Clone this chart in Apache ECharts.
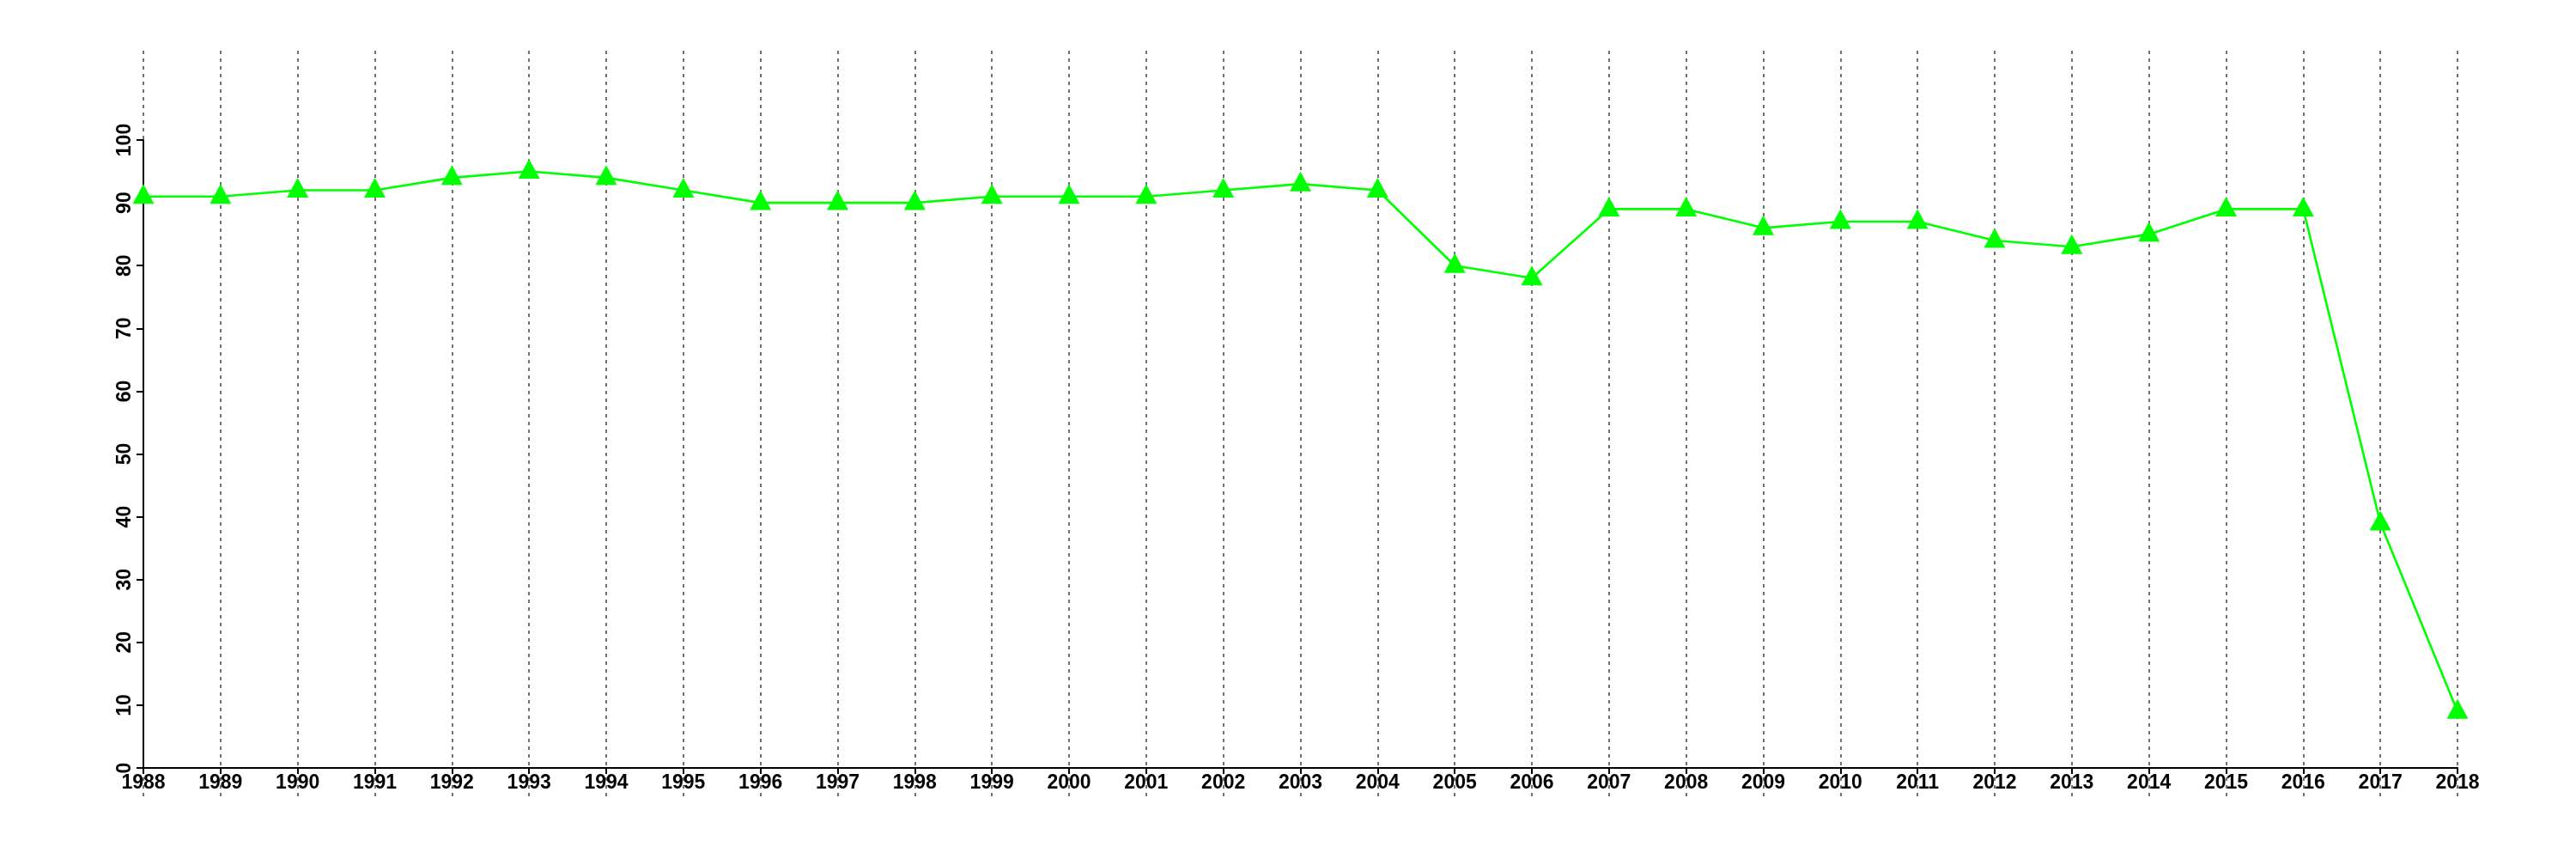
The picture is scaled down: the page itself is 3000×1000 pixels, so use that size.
<!DOCTYPE html>
<html>
<head>
<meta charset="utf-8">
<script src="https://cdn.jsdelivr.net/npm/echarts@6/dist/echarts.min.js"></script>
<style>
html,body{margin:0;padding:0;background:#fff;}
#chart{width:3000px;height:1000px;}
</style>
</head>
<body>
<div id="chart"></div>
<script>
var years = ['1988','1989','1990','1991','1992','1993','1994','1995','1996','1997','1998','1999','2000','2001','2002','2003','2004','2005','2006','2007','2008','2009','2010','2011','2012','2013','2014','2015','2016','2017','2018'];
var values = [91,91,92,92,94,95,94,92,90,90,90,91,91,91,92,93,92,80,78,89,89,86,87,87,84,83,85,89,89,39,9];
var yMin = 0, yMax = 100, yStep = 10;

var labelFont = {fontFamily: 'Liberation Sans, Arial, sans-serif', fontSize: 23, color: '#000', fontWeight: 'bold'};

var chart = echarts.init(document.getElementById('chart'), null, {renderer: 'canvas'});
chart.setOption({
  animation: false,
  backgroundColor: '#ffffff',
  grid: [
    {left: 167, right: 138, top: 163, bottom: 106, containLabel: false},
    {left: 167, right: 138, top: 59, bottom: 73, containLabel: false}
  ],
  xAxis: [
    {
      gridIndex: 0, type: 'category', data: years, boundaryGap: false,
      axisLine: {show: true, lineStyle: {color: '#000', width: 2}},
      axisTick: {show: true, alignWithLabel: true, length: 7, lineStyle: {color: '#000', width: 2}},
      axisLabel: Object.assign({show: true, margin: 6, interval: 0}, labelFont),
      splitLine: {show: false}
    },
    {
      gridIndex: 1, type: 'category', data: years, boundaryGap: false,
      axisLine: {show: false}, axisTick: {show: false}, axisLabel: {show: false},
      splitLine: {show: true, interval: 0, lineStyle: {color: '#707070', width: 2, type: [4, 5]}}
    }
  ],
  yAxis: [
    {
      gridIndex: 0, type: 'value', min: yMin, max: yMax, interval: yStep,
      axisLine: {show: true, lineStyle: {color: '#000', width: 2}},
      axisTick: {show: true, length: 8, lineStyle: {color: '#000', width: 2}},
      axisLabel: Object.assign({show: true, rotate: 90, margin: 10}, labelFont),
      splitLine: {show: false}
    },
    {
      gridIndex: 1, type: 'value', min: 0, max: 1, show: false,
      splitLine: {show: false}
    }
  ],
  series: [
    {
      type: 'line', xAxisIndex: 0, yAxisIndex: 0, data: values,
      symbol: 'triangle', symbolSize: [25, 23], symbolOffset: [0, -3],
      showAllSymbol: true,
      lineStyle: {color: '#00ff00', width: 2.6},
      itemStyle: {color: '#00ff00', borderWidth: 0},
      z: 3
    }
  ]
});
</script>
</body>
</html>
